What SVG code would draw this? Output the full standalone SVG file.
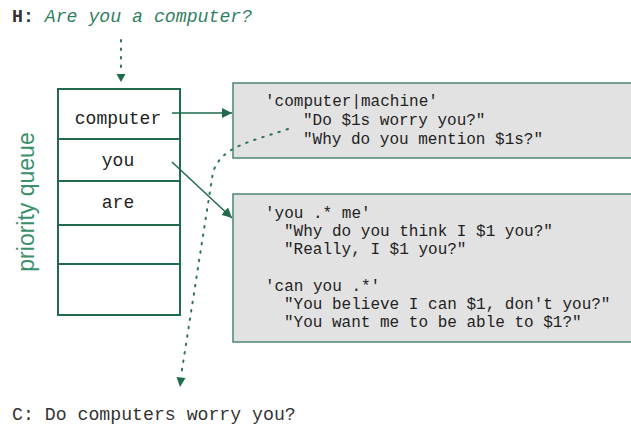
<svg xmlns="http://www.w3.org/2000/svg" width="631" height="424" viewBox="0 0 631 424">
<style>
.mono{font-family:"Liberation Mono","DejaVu Sans Mono",monospace}
.big{font-size:18px;fill:#222}
.code{font-size:16px;fill:#222}
.cell{fill:#fff;stroke:#1f6b4c;stroke-width:2}
.panel{fill:#e2e2e2;stroke:#4e8570;stroke-width:1.5}
.arrow{fill:none;stroke:#1f6b4c;stroke-width:1.5}
.dots{fill:none;stroke:#2b7656;stroke-width:2;stroke-dasharray:1.5 7;stroke-linecap:round}
</style>
<defs>
<marker id="ah" viewBox="0 0 10 10" refX="10" refY="5" markerWidth="10" markerHeight="10" markerUnits="userSpaceOnUse" orient="auto">
<path d="M0,0 L10,5 L0,10 z" fill="#1f6b4c"/>
</marker>
</defs>
<g id="title">
<text class="mono" x="12" y="22" font-size="18.2"><tspan font-weight="bold" fill="#333">H:</tspan><tspan fill="#2f7f5f" font-style="italic"> Are you a computer?</tspan></text>
</g>
<g id="queue-label">
<text x="34" y="202" transform="rotate(-90 34 202)" text-anchor="middle" font-family="Liberation Sans, Arial, sans-serif" font-size="23" fill="#3a8f6c">priority queue</text>
</g>
<g id="queue">
<rect class="cell" x="58" y="89" width="122" height="226"/>
<line class="cell" x1="58" y1="139" x2="180" y2="139"/>
<line class="cell" x1="58" y1="181" x2="180" y2="181"/>
<line class="cell" x1="58" y1="225" x2="180" y2="225"/>
<line class="cell" x1="58" y1="264" x2="180" y2="264"/>
<text class="mono big" x="118" y="124" text-anchor="middle">computer</text>
<text class="mono big" x="118" y="166" text-anchor="middle">you</text>
<text class="mono big" x="118" y="208" text-anchor="middle">are</text>
</g>
<g id="rules-computer">
<rect class="panel" x="233" y="83" width="410" height="75"/>
<text class="mono code" x="265" y="106">'computer|machine'</text>
<text class="mono code" x="303" y="125">"Do $1s worry you?"</text>
<text class="mono code" x="303" y="144">"Why do you mention $1s?"</text>
</g>
<g id="rules-you">
<rect class="panel" x="233" y="194" width="410" height="148"/>
<text class="mono code" x="265" y="218">'you .* me'</text>
<text class="mono code" x="284" y="236">"Why do you think I $1 you?"</text>
<text class="mono code" x="284" y="254">"Really, I $1 you?"</text>
<text class="mono code" x="265" y="291">'can you .*'</text>
<text class="mono code" x="284" y="309">"You believe I can $1, don't you?"</text>
<text class="mono code" x="284" y="327">"You want me to be able to $1?"</text>
</g>
<g id="output">
<text class="mono" x="12" y="420" font-size="18.2" fill="#333">C: Do computers worry you?</text>
</g>
<g id="connectors">
<path class="dots" d="M121,40 L121,74"/>
<path d="M116.5,74 L125.5,74 L121,82 z" fill="#1f6b4c"/>
<line class="arrow" x1="172" y1="113" x2="232" y2="113" marker-end="url(#ah)"/>
<line class="arrow" x1="172" y1="162" x2="232" y2="218" marker-end="url(#ah)"/>
<path class="dots" d="M288,129 C250,142 222,146 213,172 L181,376"/>
<path d="M176.5,377 L185.5,378 L180,387 z" fill="#1f6b4c"/>
</g>
</svg>
